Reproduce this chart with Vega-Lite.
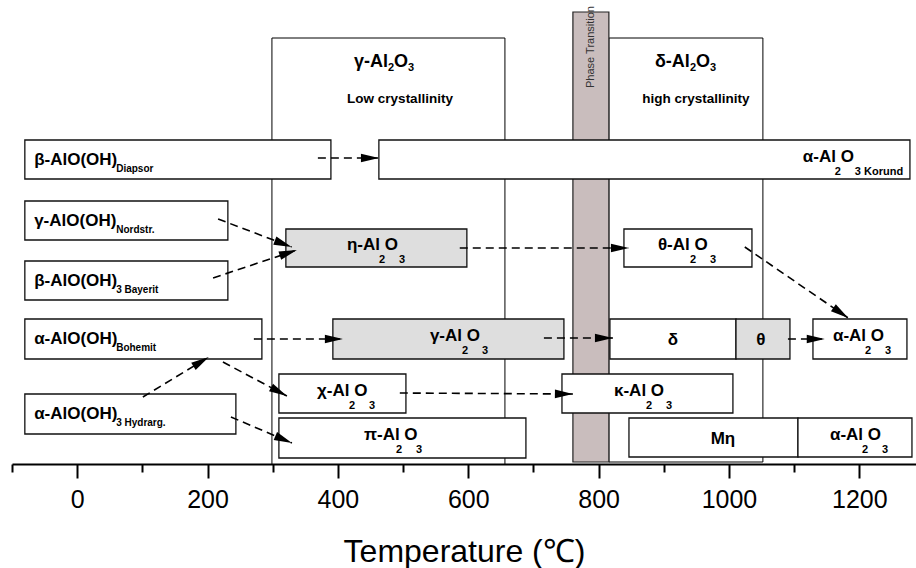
{
  "$schema": "https://vega.github.io/schema/vega-lite/v6.json",
  "width": 904,
  "height": 464,
  "autosize": {"type": "none"},
  "padding": {"left": 12, "top": 0, "right": 0, "bottom": 104},
  "config": {"view": {"stroke": null}, "font": "Liberation Sans"},
  "datasets": {
    "regions": [
      {"name": "gamma region", "x1": 298.8, "x2": 656.3, "v1": 38, "v2": 464},
      {"name": "delta region", "x1": 815.8, "x2": 1052.1, "v1": 38, "v2": 462}
    ],
    "phase": [
      {"name": "Phase Transition", "x1": 760.6, "x2": 815.8, "v1": 12, "v2": 462, "xc": 788.2, "vc": 47}
    ],
    "boxes": [
      {"name": "Diapsor", "x1": -80.3, "x2": 389.3, "v1": 140, "v2": 179, "kind": "plain"},
      {"name": "Korund", "x1": 462.9, "x2": 1277.7, "v1": 140, "v2": 179, "kind": "plain"},
      {"name": "Nordstr", "x1": -80.3, "x2": 231.2, "v1": 201, "v2": 240, "kind": "plain"},
      {"name": "eta", "x1": 320.2, "x2": 597.9, "v1": 229, "v2": 267, "kind": "transition"},
      {"name": "theta", "x1": 838.9, "x2": 1035.3, "v1": 229, "v2": 267, "kind": "plain"},
      {"name": "Bayerit", "x1": -80.3, "x2": 231.2, "v1": 261, "v2": 300, "kind": "plain"},
      {"name": "Bohemit", "x1": -80.3, "x2": 283.4, "v1": 319, "v2": 359, "kind": "plain"},
      {"name": "gamma", "x1": 392.3, "x2": 746.8, "v1": 319, "v2": 359, "kind": "transition"},
      {"name": "delta", "x1": 817.4, "x2": 1010.8, "v1": 319, "v2": 359, "kind": "plain"},
      {"name": "theta2", "x1": 1010.8, "x2": 1093.6, "v1": 319, "v2": 359, "kind": "transition"},
      {"name": "alpha5", "x1": 1128.9, "x2": 1273.1, "v1": 319, "v2": 359, "kind": "plain"},
      {"name": "chi", "x1": 309.5, "x2": 504.4, "v1": 374, "v2": 413, "kind": "plain"},
      {"name": "kappa", "x1": 743.8, "x2": 1006.1, "v1": 374, "v2": 413, "kind": "plain"},
      {"name": "Hydrarg", "x1": -80.3, "x2": 243.5, "v1": 394, "v2": 434, "kind": "plain"},
      {"name": "pi", "x1": 309.5, "x2": 688.5, "v1": 418, "v2": 458, "kind": "plain"},
      {"name": "Meta", "x1": 846.6, "x2": 1105.9, "v1": 418, "v2": 457, "kind": "plain"},
      {"name": "alphaB", "x1": 1105.9, "x2": 1280.8, "v1": 418, "v2": 457, "kind": "plain"}
    ],
    "labels": [
      {"kind": "hyd", "lx": -66, "vc": 159.5, "main": "β-AlO(OH)", "s1": "Diapsor", "s2": ""},
      {"kind": "hyd", "lx": -66, "vc": 220.5, "main": "γ-AlO(OH)", "s1": "Nordstr.", "s2": ""},
      {"kind": "hyd", "lx": -66, "vc": 280.5, "main": "β-AlO(OH)", "s1": "3 Bayerit", "s2": ""},
      {"kind": "hyd", "lx": -66, "vc": 339, "main": "α-AlO(OH)", "s1": "Bohemit", "s2": ""},
      {"kind": "hyd", "lx": -66, "vc": 414, "main": "α-AlO(OH)", "s1": "3 Hydrarg.", "s2": ""},
      {"kind": "ox", "lx": 1113.4, "vc": 159.5, "main": "α-Al O", "s1": "2", "s2": "3 Korund"},
      {"kind": "ox", "lx": 413.8, "vc": 248, "main": "η-Al O", "s1": "2", "s2": "3"},
      {"kind": "ox", "lx": 891.0, "vc": 248, "main": "θ-Al O", "s1": "2", "s2": "3"},
      {"kind": "ox", "lx": 541.2, "vc": 339, "main": "γ-Al O", "s1": "2", "s2": "3"},
      {"kind": "ox", "lx": 1159.6, "vc": 339, "main": "α-Al O", "s1": "2", "s2": "3"},
      {"kind": "ox", "lx": 367.9, "vc": 393.5, "main": "χ-Al O", "s1": "2", "s2": "3"},
      {"kind": "ox", "lx": 823.6, "vc": 393.5, "main": "κ-Al O", "s1": "2", "s2": "3"},
      {"kind": "ox", "lx": 440.0, "vc": 438, "main": "π-Al O", "s1": "2", "s2": "3"},
      {"kind": "ox", "lx": 1155.0, "vc": 437.5, "main": "α-Al O", "s1": "2", "s2": "3"},
      {"kind": "single", "lx": 914.1, "vc": 339, "main": "δ", "s1": "", "s2": ""},
      {"kind": "single", "lx": 1049.0, "vc": 339, "main": "θ", "s1": "", "s2": ""},
      {"kind": "single", "lx": 990.8, "vc": 437.5, "main": "Mη", "s1": "", "s2": ""}
    ],
    "titles": [
      {"t": "γ-Al", "lx": 424.6, "v": 67, "kind": "big"},
      {"t": "2", "lx": 476.8, "v": 71, "kind": "small"},
      {"t": "O", "lx": 486.0, "v": 67, "kind": "big"},
      {"t": "3", "lx": 507.5, "v": 71, "kind": "small"},
      {"t": "δ-Al", "lx": 886.4, "v": 67, "kind": "big"},
      {"t": "2", "lx": 940.1, "v": 71, "kind": "small"},
      {"t": "O", "lx": 949.3, "v": 67, "kind": "big"},
      {"t": "3", "lx": 970.8, "v": 71, "kind": "small"},
      {"t": "Low crystallinity", "lx": 495.3, "v": 103, "kind": "note"},
      {"t": "high crystallinity", "lx": 949.4, "v": 103, "kind": "note"}
    ],
    "arrows": [
      {"x0": 369.3, "v0": 158, "x1": 463.0, "v1": 158},
      {"x0": 216.2, "v0": 219, "x1": 329.1, "v1": 247},
      {"x0": 208.5, "v0": 278, "x1": 337.1, "v1": 250},
      {"x0": 587.0, "v0": 248, "x1": 846.6, "v1": 248},
      {"x0": 1024.3, "v0": 247, "x1": 1183.0, "v1": 318},
      {"x0": 271.1, "v0": 339, "x1": 407.7, "v1": 339},
      {"x0": 100.8, "v0": 397, "x1": 202.0, "v1": 357},
      {"x0": 223.6, "v0": 362, "x1": 321.8, "v1": 396},
      {"x0": 235.9, "v0": 417, "x1": 329.5, "v1": 443},
      {"x0": 716.1, "v0": 338, "x1": 822.0, "v1": 338},
      {"x0": 1090.5, "v0": 339, "x1": 1147.0, "v1": 339},
      {"x0": 495.0, "v0": 393, "x1": 760.6, "v1": 394}
    ]
  },
  "layer": [
    {
      "data": {"name": "regions"},
      "mark": {"type": "rect", "fill": "white", "stroke": "black", "strokeWidth": 1},
      "encoding": {
        "x": {
          "field": "x1", "type": "quantitative",
          "scale": {"domain": [-100, 1287], "nice": false, "zero": false},
          "title": "Temperature (℃)",
          "axis": {
            "values": [-100, 0, 100, 200, 300, 400, 500, 600, 700, 800, 900, 1000, 1100, 1200],
            "format": "d",
            "labelExpr": "datum.value % 200 === 0 ? datum.label : ''",
            "grid": false,
            "domainColor": "black", "domainWidth": 2,
            "tickColor": "black", "tickWidth": 2,
            "tickSize": {"condition": {"test": "datum.value % 200 === 0", "value": 14}, "value": 8},
            "labelFont": "Liberation Sans", "labelFontSize": 25, "labelColor": "black",
            "labelPadding": 9, "labelFlush": false, "labelOverlap": false, "labelBound": false,
            "titleFont": "Liberation Sans", "titleFontSize": 32, "titleFontWeight": "normal",
            "titleColor": "black", "titlePadding": 24
          }
        },
        "x2": {"field": "x2"},
        "y": {"field": "v1", "type": "quantitative", "scale": {"domain": [0, 464], "reverse": true, "nice": false, "zero": false}, "axis": null},
        "y2": {"field": "v2"}
      }
    },
    {
      "data": {"name": "phase"},
      "mark": {"type": "rect", "fill": "#c9bdbd", "stroke": "#222", "strokeWidth": 1.2},
      "encoding": {
        "x": {"field": "x1", "type": "quantitative", "scale": {"domain": [-100, 1287], "nice": false, "zero": false}, "title": "Temperature (℃)"},
        "x2": {"field": "x2"},
        "y": {"field": "v1", "type": "quantitative", "scale": {"domain": [0, 464], "reverse": true, "nice": false, "zero": false}, "axis": null},
        "y2": {"field": "v2"}
      }
    },
    {
      "data": {"name": "phase"},
      "mark": {"type": "text", "angle": 270, "align": "center", "baseline": "middle", "fontSize": 11, "font": "Liberation Sans", "color": "#333"},
      "encoding": {
        "x": {"field": "xc", "type": "quantitative", "scale": {"domain": [-100, 1287], "nice": false, "zero": false}, "title": "Temperature (℃)"},
        "y": {"field": "vc", "type": "quantitative", "scale": {"domain": [0, 464], "reverse": true, "nice": false, "zero": false}, "axis": null},
        "text": {"field": "name"}
      }
    },
    {
      "data": {"name": "boxes"},
      "mark": {"type": "rect", "stroke": "#111", "strokeWidth": 1.3},
      "encoding": {
        "x": {"field": "x1", "type": "quantitative", "scale": {"domain": [-100, 1287], "nice": false, "zero": false}, "title": "Temperature (℃)"},
        "x2": {"field": "x2"},
        "y": {"field": "v1", "type": "quantitative", "scale": {"domain": [0, 464], "reverse": true, "nice": false, "zero": false}, "axis": null},
        "y2": {"field": "v2"},
        "fill": {"field": "kind", "type": "nominal", "scale": {"domain": ["plain", "transition"], "range": ["#ffffff", "#dedede"]}, "legend": null}
      }
    },
    {
      "data": {"name": "titles"},
      "transform": [{"filter": "datum.kind === 'big'"}],
      "mark": {"type": "text", "align": "left", "baseline": "alphabetic", "fontSize": 18, "fontWeight": "bold", "font": "Liberation Sans", "color": "black"},
      "encoding": {
        "x": {"field": "lx", "type": "quantitative", "scale": {"domain": [-100, 1287], "nice": false, "zero": false}, "title": "Temperature (℃)"},
        "y": {"field": "v", "type": "quantitative", "scale": {"domain": [0, 464], "reverse": true, "nice": false, "zero": false}, "axis": null},
        "text": {"field": "t"}
      }
    },
    {
      "data": {"name": "titles"},
      "transform": [{"filter": "datum.kind === 'small'"}],
      "mark": {"type": "text", "align": "left", "baseline": "alphabetic", "fontSize": 11, "fontWeight": "bold", "font": "Liberation Sans", "color": "black"},
      "encoding": {
        "x": {"field": "lx", "type": "quantitative", "scale": {"domain": [-100, 1287], "nice": false, "zero": false}, "title": "Temperature (℃)"},
        "y": {"field": "v", "type": "quantitative", "scale": {"domain": [0, 464], "reverse": true, "nice": false, "zero": false}, "axis": null},
        "text": {"field": "t"}
      }
    },
    {
      "data": {"name": "titles"},
      "transform": [{"filter": "datum.kind === 'note'"}],
      "mark": {"type": "text", "align": "center", "baseline": "alphabetic", "fontSize": 13.5, "fontWeight": "bold", "font": "Liberation Sans", "color": "black"},
      "encoding": {
        "x": {"field": "lx", "type": "quantitative", "scale": {"domain": [-100, 1287], "nice": false, "zero": false}, "title": "Temperature (℃)"},
        "y": {"field": "v", "type": "quantitative", "scale": {"domain": [0, 464], "reverse": true, "nice": false, "zero": false}, "axis": null},
        "text": {"field": "t"}
      }
    },
    {
      "data": {"name": "labels"},
      "transform": [{"filter": "datum.kind === 'hyd'"}],
      "mark": {"type": "text", "align": "left", "baseline": "alphabetic", "dy": 5, "fontSize": 17, "fontWeight": "bold", "font": "Liberation Sans", "color": "black"},
      "encoding": {
        "x": {"field": "lx", "type": "quantitative", "scale": {"domain": [-100, 1287], "nice": false, "zero": false}, "title": "Temperature (℃)"},
        "y": {"field": "vc", "type": "quantitative", "scale": {"domain": [0, 464], "reverse": true, "nice": false, "zero": false}, "axis": null},
        "text": {"field": "main"}
      }
    },
    {
      "data": {"name": "labels"},
      "transform": [{"filter": "datum.kind === 'hyd'"}],
      "mark": {"type": "text", "align": "left", "baseline": "alphabetic", "dx": 82, "dy": 12, "fontSize": 10, "fontWeight": "bold", "font": "Liberation Sans", "color": "black"},
      "encoding": {
        "x": {"field": "lx", "type": "quantitative", "scale": {"domain": [-100, 1287], "nice": false, "zero": false}, "title": "Temperature (℃)"},
        "y": {"field": "vc", "type": "quantitative", "scale": {"domain": [0, 464], "reverse": true, "nice": false, "zero": false}, "axis": null},
        "text": {"field": "s1"}
      }
    },
    {
      "data": {"name": "labels"},
      "transform": [{"filter": "datum.kind === 'ox'"}],
      "mark": {"type": "text", "align": "left", "baseline": "alphabetic", "dy": 2, "fontSize": 17, "fontWeight": "bold", "font": "Liberation Sans", "color": "black"},
      "encoding": {
        "x": {"field": "lx", "type": "quantitative", "scale": {"domain": [-100, 1287], "nice": false, "zero": false}, "title": "Temperature (℃)"},
        "y": {"field": "vc", "type": "quantitative", "scale": {"domain": [0, 464], "reverse": true, "nice": false, "zero": false}, "axis": null},
        "text": {"field": "main"}
      }
    },
    {
      "data": {"name": "labels"},
      "transform": [{"filter": "datum.kind === 'ox'"}],
      "mark": {"type": "text", "align": "left", "baseline": "alphabetic", "dx": 32, "dy": 15, "fontSize": 11, "fontWeight": "bold", "font": "Liberation Sans", "color": "black"},
      "encoding": {
        "x": {"field": "lx", "type": "quantitative", "scale": {"domain": [-100, 1287], "nice": false, "zero": false}, "title": "Temperature (℃)"},
        "y": {"field": "vc", "type": "quantitative", "scale": {"domain": [0, 464], "reverse": true, "nice": false, "zero": false}, "axis": null},
        "text": {"field": "s1"}
      }
    },
    {
      "data": {"name": "labels"},
      "transform": [{"filter": "datum.kind === 'ox'"}],
      "mark": {"type": "text", "align": "left", "baseline": "alphabetic", "dx": 52, "dy": 15, "fontSize": 11, "fontWeight": "bold", "font": "Liberation Sans", "color": "black"},
      "encoding": {
        "x": {"field": "lx", "type": "quantitative", "scale": {"domain": [-100, 1287], "nice": false, "zero": false}, "title": "Temperature (℃)"},
        "y": {"field": "vc", "type": "quantitative", "scale": {"domain": [0, 464], "reverse": true, "nice": false, "zero": false}, "axis": null},
        "text": {"field": "s2"}
      }
    },
    {
      "data": {"name": "labels"},
      "transform": [{"filter": "datum.kind === 'single'"}],
      "mark": {"type": "text", "align": "center", "baseline": "alphabetic", "dy": 6, "fontSize": 17, "fontWeight": "bold", "font": "Liberation Sans", "color": "black"},
      "encoding": {
        "x": {"field": "lx", "type": "quantitative", "scale": {"domain": [-100, 1287], "nice": false, "zero": false}, "title": "Temperature (℃)"},
        "y": {"field": "vc", "type": "quantitative", "scale": {"domain": [0, 464], "reverse": true, "nice": false, "zero": false}, "axis": null},
        "text": {"field": "main"}
      }
    },
    {
      "data": {"name": "arrows"},
      "mark": {"type": "rule", "color": "black", "strokeWidth": 1.6, "strokeDash": [8, 5]},
      "encoding": {
        "x": {"field": "x0", "type": "quantitative", "scale": {"domain": [-100, 1287], "nice": false, "zero": false}, "title": "Temperature (℃)"},
        "x2": {"field": "x1"},
        "y": {"field": "v0", "type": "quantitative", "scale": {"domain": [0, 464], "reverse": true, "nice": false, "zero": false}, "axis": null},
        "y2": {"field": "v1"}
      }
    },
    {
      "data": {"name": "arrows"},
      "transform": [{"calculate": "atan2(datum.v1 - datum.v0, (datum.x1 - datum.x0) * 0.6517) * 180 / PI", "as": "ang"}],
      "mark": {"type": "point", "shape": "M0,0L-2,-0.48L-2,0.48Z", "size": 324, "filled": true, "color": "black", "opacity": 1, "strokeWidth": 0},
      "encoding": {
        "x": {"field": "x1", "type": "quantitative", "scale": {"domain": [-100, 1287], "nice": false, "zero": false}, "title": "Temperature (℃)"},
        "y": {"field": "v1", "type": "quantitative", "scale": {"domain": [0, 464], "reverse": true, "nice": false, "zero": false}, "axis": null},
        "angle": {"field": "ang", "type": "quantitative", "scale": null}
      }
    }
  ]
}
